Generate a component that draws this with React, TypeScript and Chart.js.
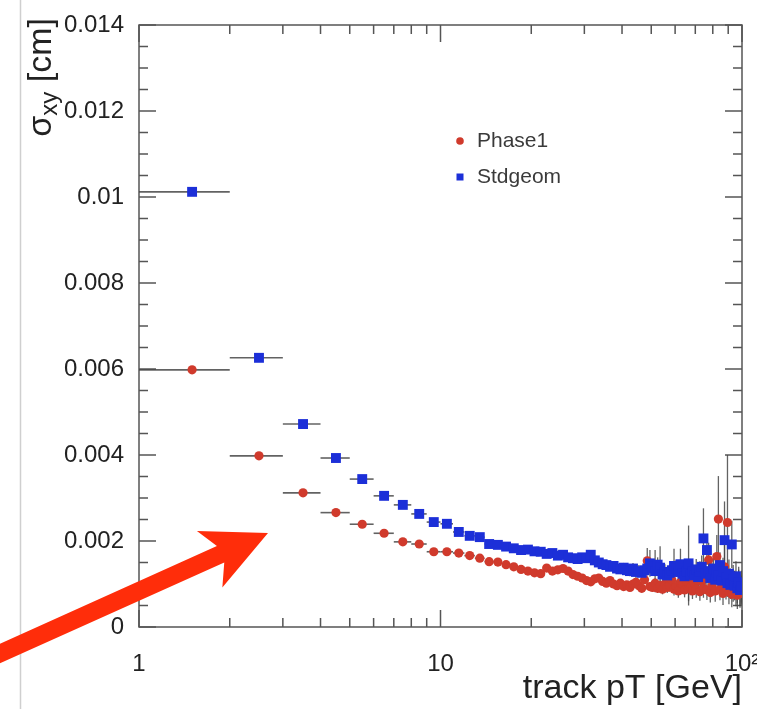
import React, { useEffect, useRef } from "react";
import { Chart, registerables } from "chart.js";

Chart.register(...registerables);

// ---- data (pT bin centres in GeV, resolutions in cm) ----
const PT_CENTERS = [
  1.5, 2.5, 3.5, 4.5, 5.5, 6.5, 7.5, 8.5, 9.5,
  10.5, 11.5, 12.5, 13.5, 14.5, 15.5, 16.5, 17.5, 18.5, 19.5,
  20.5, 21.5, 22.5, 23.5, 24.5, 25.5, 26.5, 27.5, 28.5, 29.5,
  30.5, 31.5, 32.5, 33.5, 34.5, 35.5, 36.5, 37.5, 38.5, 39.5,
  40.5, 41.5, 42.5, 43.5, 44.5, 45.5, 46.5, 47.5, 48.5, 49.5,
  50.5, 51.5, 52.5, 53.5, 54.5, 55.5, 56.5, 57.5, 58.5, 59.5,
  60.5, 61.5, 62.5, 63.5, 64.5, 65.5, 66.5, 67.5, 68.5, 69.5,
  70.5, 71.5, 72.5, 73.5, 74.5, 75.5, 76.5, 77.5, 78.5, 79.5,
  80.5, 81.5, 82.5, 83.5, 84.5, 85.5, 86.5, 87.5, 88.5, 89.5,
  90.5, 91.5, 92.5, 93.5, 94.5, 95.5, 96.5, 97.5, 98.5, 99.5,
];
const BIN_HALF_WIDTH = 0.5;

const PHASE1 = [
  0.00598, 0.00398, 0.00312, 0.00266, 0.00239, 0.00218, 0.00198, 0.00193, 0.00175,
  0.00175, 0.00172, 0.00166, 0.0016, 0.00152, 0.00151, 0.00145, 0.0014, 0.00134, 0.0013,
  0.00126, 0.00124, 0.00137, 0.0013, 0.00133, 0.00136, 0.0013, 0.00122, 0.00118, 0.00114,
  0.00108, 0.00105, 0.00112, 0.00114, 0.00106, 0.00102, 0.00108, 0.001, 0.00096, 0.00102,
  0.00094, 0.00098, 0.00092, 0.001, 0.00104, 0.00096, 0.0009, 0.0011, 0.00154, 0.00094,
  0.00092, 0.00102, 0.0009, 0.00096, 0.00088, 0.001, 0.00092, 0.00096, 0.0011, 0.00088,
  0.00094, 0.00084, 0.00104, 0.00098, 0.00086, 0.00108, 0.0009, 0.00092, 0.00084, 0.00102,
  0.00088, 0.0011, 0.00082, 0.00106, 0.0009, 0.0013, 0.00086, 0.00156, 0.0008, 0.00096,
  0.00114, 0.00084, 0.00164, 0.00251, 0.00088, 0.0012, 0.00078, 0.0014, 0.00092, 0.00243,
  0.00082, 0.00106, 0.00076, 0.0009, 0.001, 0.0008, 0.00074, 0.001, 0.00078, 0.00086,
];
const PHASE1_ERR = [
  0.00001, 0.00001, 0.00001, 0.00001, 0.00001, 0.00001, 0.00001, 0.00001, 0.00001,
  0.00001, 0.00001, 0.00001, 0.00001, 0.00001, 0.00001, 0.00001, 0.00001, 0.00001, 0.00001,
  0.00002, 0.00002, 0.00002, 0.00002, 0.00002, 0.00002, 0.00002, 0.00002, 0.00002, 0.00002,
  0.00003, 0.00003, 0.00004, 0.00004, 0.00004, 0.00005, 0.00005, 0.00005, 0.00006, 0.00006,
  0.00006, 0.00007, 0.00007, 0.00008, 0.00008, 0.00008, 0.00009, 0.00009, 0.0003, 0.0001,
  0.0001, 0.00011, 0.00011, 0.00012, 0.00012, 0.00013, 0.00013, 0.00014, 0.00014, 0.00015,
  0.00015, 0.00016, 0.00016, 0.00017, 0.00017, 0.00018, 0.0004, 0.00018, 0.00019, 0.00019,
  0.0002, 0.0002, 0.00021, 0.00021, 0.00022, 0.00022, 0.00023, 0.0004, 0.00023, 0.00024,
  0.00024, 0.00025, 0.0005, 0.001, 0.00026, 0.00027, 0.00027, 0.0006, 0.00028, 0.00157,
  0.00029, 0.0003, 0.0003, 0.00031, 0.00031, 0.00032, 0.00032, 0.00033, 0.00033, 0.00034,
];

const STDGEOM = [
  0.01012, 0.00626, 0.00472, 0.00393, 0.00344, 0.00305, 0.00284, 0.00263, 0.00244,
  0.0024, 0.00221, 0.00212, 0.00209, 0.00193, 0.00191, 0.00187, 0.00183, 0.00179, 0.0018,
  0.00176, 0.00175, 0.0017, 0.00172, 0.00166, 0.00168, 0.00162, 0.0016, 0.00158, 0.00162,
  0.0016, 0.00168, 0.00155, 0.0015, 0.00146, 0.00144, 0.0014, 0.00142, 0.00136, 0.00134,
  0.00138, 0.00132, 0.0013, 0.00136, 0.00128, 0.0013, 0.00126, 0.00132, 0.00136, 0.00148,
  0.0014, 0.0013, 0.00145, 0.00138, 0.00122, 0.00128, 0.0012, 0.00126, 0.00132, 0.00142,
  0.00136, 0.00128, 0.00146, 0.00124, 0.00118, 0.0013, 0.00148, 0.00122, 0.0013, 0.0012,
  0.00134, 0.00116, 0.00128, 0.0014, 0.00206, 0.00124, 0.00179, 0.0013, 0.00114, 0.00122,
  0.00136, 0.0011, 0.00126, 0.0012, 0.00144, 0.00108, 0.0013, 0.00202, 0.00116, 0.00102,
  0.00124, 0.00098, 0.00192, 0.0011, 0.00096, 0.00118, 0.0009, 0.00104, 0.00086, 0.00094,
];
const STDGEOM_ERR = [
  0.00001, 0.00001, 0.00001, 0.00001, 0.00001, 0.00001, 0.00001, 0.00001, 0.00001,
  0.00002, 0.00002, 0.00002, 0.00002, 0.00002, 0.00002, 0.00002, 0.00002, 0.00002, 0.00002,
  0.00003, 0.00003, 0.00004, 0.00003, 0.00004, 0.00004, 0.00005, 0.00005, 0.00005, 0.00006,
  0.00006, 0.00007, 0.00007, 0.00008, 0.00008, 0.00009, 0.00009, 0.0001, 0.0001, 0.00011,
  0.00011, 0.00012, 0.00012, 0.00013, 0.00014, 0.00014, 0.00015, 0.00016, 0.00016, 0.00031,
  0.00016, 0.00049, 0.00017, 0.0005, 0.00018, 0.00018, 0.00019, 0.00019, 0.0002, 0.0004,
  0.0002, 0.00021, 0.00036, 0.00021, 0.00022, 0.00022, 0.00088, 0.00023, 0.00023, 0.00024,
  0.00024, 0.00025, 0.00025, 0.00026, 0.0007, 0.00026, 0.00035, 0.00027, 0.00027, 0.00028,
  0.00028, 0.00029, 0.00029, 0.0003, 0.0003, 0.00031, 0.00031, 0.0009, 0.00032, 0.00032,
  0.00033, 0.00033, 0.00055, 0.00034, 0.00034, 0.00035, 0.00035, 0.00036, 0.00036, 0.00037,
];

const SERIES_NAMES = ["Phase1", "Stdgeom"];
const X_MAJOR_TICKS = [1, 10, 100];
const X_MINOR_TICKS = [2, 3, 4, 5, 6, 7, 8, 9, 20, 30, 40, 50, 60, 70, 80, 90];
const Y_MAJOR_TICKS = [0, 0.002, 0.004, 0.006, 0.008, 0.01, 0.012, 0.014];
const Y_MINOR_STEP = 0.0005;
const X_TITLE = "track pT [GeV]";

const RED = "#d03a2c";
const BLUE = "#1c2fd8";
const FONT = '"Liberation Sans", Arial, Helvetica, sans-serif';

const framePlugin = {
  id: "rootFrame",
  beforeDatasetsDraw(chart: any) {
    const { ctx, chartArea: a, scales } = chart;
    const x = scales.x, y = scales.y;
    ctx.save();
    ctx.strokeStyle = "#555";
    ctx.lineWidth = 1.5;
    ctx.strokeRect(a.left, a.top, a.right - a.left, a.bottom - a.top);
    const MAJ = 17, MIN = 9;
    ctx.beginPath();
    const ys: [number, number][] = [];
    for (let v = 0; v <= 0.014 + 1e-9; v += Y_MINOR_STEP) {
      const isMaj = Y_MAJOR_TICKS.some((t) => Math.abs(t - v) < 1e-9);
      ys.push([y.getPixelForValue(v), isMaj ? MAJ : MIN]);
    }
    ys.forEach(([py, l]) => {
      ctx.moveTo(a.left, py); ctx.lineTo(a.left + l, py);
      ctx.moveTo(a.right, py); ctx.lineTo(a.right - l, py);
    });
    const xs: [number, number][] = [];
    X_MAJOR_TICKS.forEach((v) => xs.push([x.getPixelForValue(v), MAJ]));
    X_MINOR_TICKS.forEach((v) => xs.push([x.getPixelForValue(v), MIN]));
    xs.forEach(([px, l]) => {
      ctx.moveTo(px, a.bottom); ctx.lineTo(px, a.bottom - l);
      ctx.moveTo(px, a.top); ctx.lineTo(px, a.top + l);
    });
    ctx.stroke();

    // error bars
    ctx.beginPath();
    ctx.rect(a.left, a.top, a.right - a.left, a.bottom - a.top);
    ctx.clip();
    chart.data.datasets.forEach((ds: any) => {
      ds.data.forEach((p: any, i: number) => {
        const px = x.getPixelForValue(p.x);
        const py = y.getPixelForValue(p.y);
        const x0 = x.getPixelForValue(p.x - BIN_HALF_WIDTH);
        const x1 = x.getPixelForValue(p.x + BIN_HALF_WIDTH);
        const e = ds.yErr[i];
        ctx.strokeStyle = "rgba(70,70,70,0.85)";
        ctx.lineWidth = 1.6;
        ctx.beginPath();
        ctx.moveTo(x0, py); ctx.lineTo(x1, py);
        ctx.stroke();
        ctx.lineWidth = 1.3;
        ctx.beginPath();
        ctx.moveTo(px, y.getPixelForValue(p.y - e));
        ctx.lineTo(px, y.getPixelForValue(p.y + e));
        ctx.stroke();
      });
    });
    ctx.restore();
  },
  afterDraw(chart: any) {
    const { ctx } = chart;
    ctx.save();
    // page border line
    ctx.strokeStyle = "#cfcfcf";
    ctx.lineWidth = 1.5;
    ctx.beginPath();
    ctx.moveTo(20.5, 0); ctx.lineTo(20.5, 709);
    ctx.stroke();

    // y title with subscript
    ctx.fillStyle = "#222";
    ctx.translate(42, 18);
    ctx.rotate(-Math.PI / 2);
    ctx.textBaseline = "middle";
    ctx.textAlign = "left";
    const main = `34px ${FONT}`, sub = `24px ${FONT}`;
    ctx.font = main;
    const w1 = ctx.measureText("σ").width;
    const w3 = ctx.measureText(" [cm]").width;
    ctx.font = sub;
    const w2 = ctx.measureText("xy").width;
    let cx = -(w1 + w2 + w3);
    ctx.font = main; ctx.fillText("σ", cx, 0); cx += w1;
    ctx.font = sub; ctx.fillText("xy", cx, 8); cx += w2;
    ctx.font = main; ctx.fillText(" [cm]", cx, 0);
    ctx.restore();

    // legend
    ctx.save();
    ctx.font = `21px ${FONT}`;
    ctx.textBaseline = "middle";
    ctx.fillStyle = "#3a3a3a";
    ctx.fillText(SERIES_NAMES[0], 477, 141);
    ctx.fillText(SERIES_NAMES[1], 477, 177);
    ctx.fillStyle = RED;
    ctx.beginPath(); ctx.arc(460, 141, 3.8, 0, Math.PI * 2); ctx.fill();
    ctx.fillStyle = BLUE;
    ctx.fillRect(456.5, 173.5, 7, 7);
    ctx.restore();

    // red annotation arrow
    ctx.save();
    const tip = [268, 533];
    const tail = [-10, 658];
    const dx = tip[0] - tail[0], dy = tip[1] - tail[1];
    const L = Math.hypot(dx, dy);
    const ux = dx / L, uy = dy / L, nx = -uy, ny = ux;
    const sw = 9, neck = 52, barbBack = 64, hw = 31;
    const pt = (along: number, side: number) => [tip[0] - ux * along + nx * side, tip[1] - uy * along + ny * side];
    const poly = [
      [tail[0] + nx * sw, tail[1] + ny * sw],
      pt(neck, sw),
      pt(barbBack, hw),
      tip,
      pt(barbBack, -hw),
      pt(neck, -sw),
      [tail[0] - nx * sw, tail[1] - ny * sw],
    ];
    ctx.fillStyle = "#ff2d0a";
    ctx.beginPath();
    poly.forEach((p, i) => (i ? ctx.lineTo(p[0], p[1]) : ctx.moveTo(p[0], p[1])));
    ctx.closePath();
    ctx.fill();
    ctx.restore();
  },
};

export default function App() {
  const ref = useRef<HTMLCanvasElement>(null);
  useEffect(() => {
    const mk = (vals: number[]) => vals.map((v, i) => ({ x: PT_CENTERS[i], y: v }));
    const chart = new Chart(ref.current as HTMLCanvasElement, {
      type: "scatter",
      data: {
        datasets: [
          {
            label: SERIES_NAMES[0],
            data: mk(PHASE1),
            yErr: PHASE1_ERR,
            pointStyle: "circle",
            pointRadius: 4.6,
            pointBackgroundColor: RED,
            pointBorderColor: RED,
            pointBorderWidth: 0,
            order: 2,
          } as any,
          {
            label: SERIES_NAMES[1],
            data: mk(STDGEOM),
            yErr: STDGEOM_ERR,
            pointStyle: "rect",
            pointRadius: 7,
            pointBackgroundColor: BLUE,
            pointBorderColor: BLUE,
            pointBorderWidth: 0,
            order: 1,
          } as any,
        ],
      },
      options: {
        animation: false,
        responsive: false,
        devicePixelRatio: 1,
        layout: { padding: { left: 0, right: 15, top: 25, bottom: 0 } },
        plugins: { legend: { display: false }, tooltip: { enabled: false } },
        scales: {
          x: {
            type: "logarithmic",
            min: 1,
            max: 100,
            grid: { display: false },
            border: { display: false },
            afterBuildTicks: (s: any) => {
              s.ticks = X_MAJOR_TICKS.map((v) => ({ value: v }));
            },
            afterFit: (s: any) => {
              s.height = 82;
              s.paddingLeft = 0;
              s.paddingRight = 0;
            },
            ticks: {
              autoSkip: false,
              maxRotation: 0,
              padding: 15,
              color: "#222",
              font: { family: FONT, size: 24 },
              callback: (v: any) => (Number(v) === 100 ? "10²" : String(v)),
            },
            title: {
              display: true,
              text: X_TITLE,
              align: "end",
              color: "#222",
              font: { family: FONT, size: 34 },
              padding: { top: 0, bottom: 0 },
            },
          },
          y: {
            type: "linear",
            min: 0,
            max: 0.014,
            grid: { display: false },
            border: { display: false },
            afterBuildTicks: (s: any) => {
              s.ticks = Y_MAJOR_TICKS.map((v) => ({ value: v }));
            },
            afterFit: (s: any) => {
              s.width = 139;
              s.paddingTop = 0;
              s.paddingBottom = 0;
            },
            ticks: {
              padding: 7,
              color: "#222",
              font: { family: FONT, size: 24 },
              callback: (v: any) => String(Number(Number(v).toFixed(3))),
            },
          },
        },
      } as any,
      plugins: [framePlugin],
    });
    return () => chart.destroy();
  }, []);
  return (
    <div style={{ position: "absolute", left: 0, top: 0, width: 757, height: 709, background: "#fff" }}>
      <canvas ref={ref} width={757} height={709} style={{ display: "block" }} />
    </div>
  );
}
